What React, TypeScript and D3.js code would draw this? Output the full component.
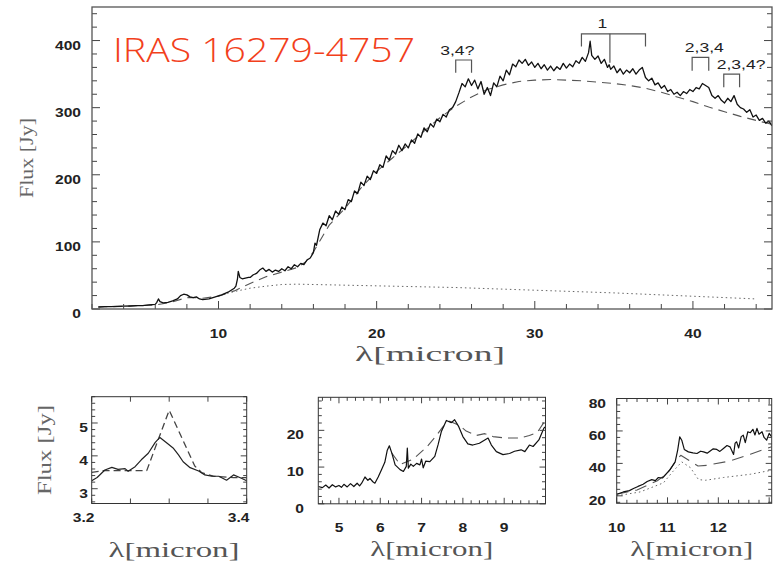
import React from "react";
import * as d3 from "d3";

// ---------- DATA ----------
const mainSpectrum: [number, number][] = [
  [2.4, 3], [2.8, 3.5], [3.2, 3.5], [3.6, 4], [4.0, 4.2], [4.4, 4.5], [4.8, 5], [5.2, 5], [5.6, 6], [6.0, 7],
  [6.1, 10], [6.2, 15], [6.3, 11], [6.5, 9], [6.8, 10], [7.1, 12], [7.4, 15], [7.6, 20], [7.8, 22], [8.0, 21],
  [8.2, 18], [8.4, 17], [8.6, 18], [8.8, 15], [9.0, 14], [9.4, 15], [9.8, 18], [10.2, 21], [10.6, 25], [11.0, 31],
  [11.1, 34], [11.2, 45], [11.25, 56], [11.35, 47], [11.5, 45], [11.7, 46], [11.9, 47],
  [12.0, 47], [12.2, 51], [12.4, 53], [12.6, 58], [12.8, 61], [13.0, 56], [13.2, 59], [13.4, 55], [13.6, 58], [13.8, 56],
  [14.0, 60], [14.2, 57], [14.4, 63], [14.6, 60], [14.8, 66], [15.0, 63], [15.2, 68], [15.4, 66], [15.6, 73], [15.8, 76],
  [16.0, 84], [16.1, 98], [16.2, 95], [16.4, 118], [16.6, 128], [16.8, 124], [17.0, 139], [17.2, 133], [17.4, 146], [17.6, 141],
  [17.8, 152], [18.0, 148], [18.2, 163], [18.4, 160], [18.6, 176], [18.8, 172], [19.0, 189], [19.2, 184], [19.4, 198], [19.6, 193],
  [19.8, 206], [20.0, 202], [20.2, 215], [20.4, 211], [20.6, 228], [20.8, 222], [21.0, 236], [21.2, 231], [21.4, 244], [21.6, 236],
  [21.8, 246], [22.0, 240], [22.2, 252], [22.4, 247], [22.6, 261], [22.8, 256], [23.0, 270], [23.2, 264], [23.4, 276], [23.6, 271],
  [23.8, 283], [24.0, 279], [24.2, 290], [24.4, 286], [24.6, 297], [24.8, 300], [25.0, 309], [25.2, 322], [25.4, 336], [25.6, 331],
  [25.8, 343], [26.0, 333], [26.2, 341], [26.4, 328], [26.6, 339], [26.8, 320], [27.0, 330], [27.2, 318], [27.4, 337], [27.6, 331],
  [27.8, 347], [28.0, 340], [28.2, 356], [28.4, 349], [28.6, 365], [28.8, 361], [29.0, 371], [29.2, 366], [29.4, 372], [29.6, 363],
  [29.8, 368], [30.0, 360], [30.2, 366], [30.4, 358], [30.6, 364], [30.8, 356], [31.0, 362], [31.2, 355], [31.4, 361], [31.6, 357],
  [31.8, 366], [32.0, 359], [32.2, 365], [32.4, 361], [32.6, 370], [32.8, 366], [33.0, 375], [33.2, 369], [33.4, 382], [33.5, 399],
  [33.6, 378], [33.8, 372], [34.0, 377], [34.2, 366], [34.4, 372], [34.6, 360], [34.7, 364], [34.8, 357], [35.0, 362], [35.2, 352],
  [35.4, 358], [35.6, 350], [35.8, 356], [36.0, 352], [36.2, 358], [36.4, 350], [36.6, 356], [36.8, 360], [37.0, 345], [37.2, 340],
  [37.4, 344], [37.6, 334], [37.8, 337], [38.0, 329], [38.2, 333], [38.4, 324], [38.6, 327], [38.8, 320], [39.0, 323], [39.2, 318],
  [39.4, 324], [39.6, 321], [39.8, 327], [40.0, 324], [40.2, 330], [40.4, 328], [40.6, 336], [40.8, 333], [41.0, 330], [41.2, 318],
  [41.4, 314], [41.6, 318], [41.8, 311], [42.0, 307], [42.2, 314], [42.4, 309], [42.6, 318], [42.8, 305], [43.0, 300], [43.2, 298],
  [43.4, 293], [43.6, 297], [43.8, 286], [44.0, 289], [44.2, 281], [44.4, 284], [44.6, 277], [44.8, 280], [45.0, 273],
];

const mainModel: [number, number][] = [
  [2.4, 3], [4, 4], [6, 6], [7, 10], [7.7, 15], [8, 17], [8.5, 17], [9, 16], [10, 19], [11, 27], [12, 38], [13, 48],
  [14, 55], [15, 62], [15.5, 70], [16, 85], [16.5, 105], [17, 125], [18, 150], [19, 180], [20, 205], [21, 225],
  [22, 245], [23, 265], [24, 285], [25, 302], [26, 316], [27, 327], [28, 334], [29, 339], [30, 341], [31, 342],
  [32, 341], [33, 340], [34, 338], [35, 336], [36, 333], [37, 329], [38, 323], [39, 316], [40, 309], [41, 301],
  [42, 294], [43, 287], [44, 281], [45, 275],
];

const mainDust: [number, number][] = [
  [10, 20], [11, 26], [12, 31], [13, 34], [14, 36.5], [15, 37], [16, 36.5], [18, 35.5], [20, 34.5],
  [25, 32], [30, 28], [35, 24], [40, 19], [44, 15],
];

const mainXTickLabels = [10, 20, 30, 40];
const mainYTickLabels = [0, 100, 200, 300, 400];

// feature brackets: [λstart, λend, top, legBottom]
const featureBrackets: [number, number, number, number][] = [
  [25.0, 26.0, 371, 352],
  [32.95, 37.0, 410, 391],
  [39.95, 41.0, 375, 355],
  [41.95, 42.95, 350, 330.5],
];
const centerLeg: [number, number, number] = [34.75, 410, 367];
const featureLabels: { text: string; x: number; y: number }[] = [
  { text: "3,4?", x: 25.1, y: 378.5 },
  { text: "1", x: 34.28, y: 418.8 },
  { text: "2,3,4", x: 40.72, y: 383.5 },
  { text: "2,3,4?", x: 43.04, y: 357.7 },
];

// panel A : 3.3 micron band
const band33Spectrum: [number, number][] = [
  [3.2, 3.24], [3.207, 3.34], [3.217, 3.57], [3.226, 3.65], [3.234, 3.59], [3.243, 3.61], [3.247, 3.53],
  [3.256, 3.67], [3.264, 3.88], [3.273, 4.08], [3.282, 4.41], [3.288, 4.56], [3.297, 4.39], [3.305, 4.24],
  [3.312, 4.03], [3.318, 3.82], [3.327, 3.64], [3.338, 3.54], [3.346, 3.42], [3.355, 3.38], [3.364, 3.38],
  [3.374, 3.26], [3.383, 3.42], [3.391, 3.34], [3.4, 3.24],
];
const band33Model: [number, number][] = [
  [3.2, 3.5], [3.215, 3.55], [3.271, 3.55], [3.3, 5.39], [3.333, 3.69], [3.342, 3.49], [3.357, 3.38],
  [3.383, 3.34], [3.4, 3.34],
];

// panel B : 5-10 micron
const pahSpectrum: [number, number][] = [
  [4.5, 4.7], [4.6, 4.4], [4.68, 5.1], [4.76, 4.3], [4.84, 5.2], [4.92, 4.6], [5.0, 5.0], [5.06, 4.5], [5.12, 5.3],
  [5.2, 4.6], [5.28, 5.5], [5.36, 4.7], [5.44, 5.6], [5.5, 4.9], [5.55, 5.6], [5.63, 7.3], [5.7, 6.4], [5.75, 6.9],
  [5.82, 6.0], [5.87, 5.6], [5.95, 7.3], [6.03, 9.3], [6.11, 11.3], [6.17, 14.6], [6.22, 15.8], [6.28, 13.8],
  [6.36, 10.6], [6.48, 9.3], [6.56, 8.8], [6.63, 10.2], [6.655, 15.2], [6.68, 9.7], [6.74, 10.8], [6.8, 10.2],
  [6.88, 11.0], [6.96, 10.6], [7.0, 12.2], [7.04, 9.8], [7.1, 11.6], [7.2, 11.5], [7.32, 12.9], [7.4, 16.1],
  [7.48, 19.7], [7.6, 22.7], [7.72, 22.1], [7.8, 22.9], [7.9, 21.0], [8.0, 18.3], [8.12, 16.3], [8.24, 16.0],
  [8.4, 16.5], [8.53, 17.4], [8.61, 17.9], [8.69, 16.0], [8.81, 14.2], [8.97, 13.4], [9.13, 13.7], [9.25, 14.3],
  [9.41, 14.7], [9.5, 14.2], [9.61, 16.0], [9.7, 15.6], [9.84, 17.4], [9.96, 20.6], [10.0, 21],
];
const pahModel: [number, number][] = [
  [6.28, 13.8], [6.48, 10.7], [6.8, 12.2], [7.12, 15.4], [7.36, 18.6], [7.52, 21], [7.68, 22.5], [7.92, 21.3],
  [8.08, 19.8], [8.32, 18.6], [8.53, 19.1], [8.73, 18.3], [9.05, 17.9], [9.37, 17.9], [9.61, 18.6], [9.8, 19.4],
  [10.0, 22.8],
];

// panel C : 10-13 micron
const band11Spectrum: [number, number][] = [
  [10.0, 21], [10.13, 22.4], [10.25, 23.2], [10.33, 24.5], [10.42, 25.8], [10.52, 27.1], [10.6, 28.8],
  [10.69, 30], [10.76, 29.4], [10.82, 31.3], [10.9, 31.0], [10.95, 32.7], [11.05, 36.2], [11.15, 40.9],
  [11.2, 48.2], [11.24, 56.4], [11.28, 54.3], [11.33, 48.6], [11.41, 47.1], [11.5, 46.5], [11.58, 46.1],
  [11.65, 47.5], [11.71, 47.1], [11.78, 46.3], [11.84, 47.7], [11.9, 49.0], [11.97, 48.6], [12.03, 47.4],
  [12.1, 49.2], [12.17, 51.0], [12.23, 50.2], [12.3, 45.5], [12.33, 52.5], [12.36, 53.3], [12.4, 49.5],
  [12.45, 56.5], [12.49, 57.4], [12.53, 52.8], [12.58, 59.5], [12.63, 58.9], [12.68, 61.0], [12.72, 57.5],
  [12.76, 61.6], [12.8, 58.0], [12.86, 59.5], [12.9, 56.0], [12.95, 54.3], [13.0, 58.5], [13.05, 56.4],
];
const band11Model: [number, number][] = [
  [10.0, 21], [10.4, 23.6], [10.8, 29.3], [11.0, 34], [11.2, 43], [11.26, 45], [11.6, 38.4], [11.77, 38.8],
  [12.23, 41.5], [12.63, 45.6], [13.05, 50.3],
];
const band11Dust: [number, number][] = [
  [10.0, 20], [10.46, 22.4], [10.92, 28], [11.1, 34.8], [11.28, 40.9], [11.45, 37.4], [11.61, 30],
  [11.75, 29.6], [12.1, 31.3], [12.63, 33.3], [13.05, 35.8],
];

// ---------- RENDER HELPERS ----------
type Series = { data: [number, number][]; stroke: string; width: number; dash?: string };
type PanelCfg = {
  left: number; right: number; top: number; bottom: number;
  xDomain: [number, number]; yDomain: [number, number];
  xMinor: number; xMajor: number; yMinor: number; yMajor: number;
  xMajorLen: number; xMinorLen: number; yMajorLen: number; yMinorLen: number;
  ticksTop: boolean; ticksRight: boolean;
  xLabels: number[]; yLabels: number[];
  xLabelY: number; xLabelDx: number; yLabelX: number; yLabelDy: number;
  fmtX: (v: number) => string;
  series: Series[];
  frameColor: string; frameWidth: number;
};

function tickValues(domain: [number, number], step: number): number[] {
  const out: number[] = [];
  const i0 = Math.ceil(domain[0] / step - 1e-6);
  const i1 = Math.floor(domain[1] / step + 1e-6);
  for (let i = i0; i <= i1; i++) out.push(+(i * step).toFixed(6));
  return out;
}
const isMajor = (v: number, major: number) => Math.abs(v / major - Math.round(v / major)) < 1e-6;

const numFont = "'Liberation Sans', Arial, sans-serif";
const serifFont = "'Liberation Serif', 'Times New Roman', serif";

function Num({ x, y, text, anchor }: { x: number; y: number; text: string; anchor: string }) {
  return (
    <text transform={`translate(${x},${y}) scale(1.3,1)`} textAnchor={anchor}
      fontFamily={numFont} fontWeight={700} fontSize={12} fill="#222">{text}</text>
  );
}

function Panel({ cfg, children }: { cfg: PanelCfg; children?: (x: any, y: any) => React.ReactNode }) {
  const x = d3.scaleLinear().domain(cfg.xDomain).range([cfg.left, cfg.right]);
  const y = d3.scaleLinear().domain(cfg.yDomain).range([cfg.bottom, cfg.top]);
  const line = d3.line<[number, number]>().x((d) => x(d[0])).y((d) => y(d[1]));
  const xt = tickValues(cfg.xDomain, cfg.xMinor);
  const yt = tickValues(cfg.yDomain, cfg.yMinor);
  const tc = "#444";
  return (
    <g>
      <defs>
        <clipPath id={`clip-${cfg.left}`}>
          <rect x={cfg.left} y={cfg.top} width={cfg.right - cfg.left} height={cfg.bottom - cfg.top} />
        </clipPath>
      </defs>
      <g clipPath={`url(#clip-${cfg.left})`}>
        {cfg.series.map((s, i) => (
          <path key={i} d={line(s.data) || ""} fill="none" stroke={s.stroke} strokeWidth={s.width}
            strokeDasharray={s.dash} strokeLinejoin="round" />
        ))}
      </g>
      {xt.map((v, i) => {
        const len = isMajor(v, cfg.xMajor) ? cfg.xMajorLen : cfg.xMinorLen;
        return (
          <g key={"x" + i} stroke={tc} strokeWidth={1}>
            <line x1={x(v)} x2={x(v)} y1={cfg.bottom} y2={cfg.bottom - len} />
            {cfg.ticksTop && <line x1={x(v)} x2={x(v)} y1={cfg.top} y2={cfg.top + len} />}
          </g>
        );
      })}
      {yt.map((v, i) => {
        const len = isMajor(v, cfg.yMajor) ? cfg.yMajorLen : cfg.yMinorLen;
        return (
          <g key={"y" + i} stroke={tc} strokeWidth={1}>
            <line x1={cfg.left} x2={cfg.left + len} y1={y(v)} y2={y(v)} />
            {cfg.ticksRight && <line x1={cfg.right} x2={cfg.right - len} y1={y(v)} y2={y(v)} />}
          </g>
        );
      })}
      <rect x={cfg.left} y={cfg.top} width={cfg.right - cfg.left} height={cfg.bottom - cfg.top}
        fill="none" stroke={cfg.frameColor} strokeWidth={cfg.frameWidth} />
      {cfg.xLabels.map((v, i) => (
        <Num key={"xl" + i} x={x(v) + cfg.xLabelDx} y={cfg.xLabelY} text={cfg.fmtX(v)} anchor="middle" />
      ))}
      {cfg.yLabels.map((v, i) => (
        <Num key={"yl" + i} x={cfg.yLabelX} y={y(v) + cfg.yLabelDy} text={String(v)} anchor="end" />
      ))}
      {children && children(x, y)}
    </g>
  );
}

const mainCfg: PanelCfg = {
  left: 92, right: 772, top: 7, bottom: 309,
  xDomain: [2, 45], yDomain: [0, 450],
  xMinor: 2, xMajor: 10, yMinor: 20, yMajor: 100,
  xMajorLen: 8, xMinorLen: 5, yMajorLen: 8, yMinorLen: 5,
  ticksTop: false, ticksRight: true,
  xLabels: mainXTickLabels, yLabels: mainYTickLabels,
  xLabelY: 338, xLabelDx: 0, yLabelX: 81, yLabelDy: 9,
  fmtX: (v) => String(v),
  series: [
    { data: mainDust, stroke: "#666", width: 1, dash: "1.5,3" },
    { data: mainModel, stroke: "#555", width: 1.1, dash: "9,6" },
    { data: mainSpectrum, stroke: "#111", width: 1.3 },
  ],
  frameColor: "#555", frameWidth: 1.3,
};

const panelA: PanelCfg = {
  left: 91.7, right: 246.7, top: 396.7, bottom: 503.5,
  xDomain: [3.2, 3.4], yDomain: [2.55, 5.8],
  xMinor: 0.05, xMajor: 0.05, yMinor: 0.2, yMajor: 1,
  xMajorLen: 5, xMinorLen: 5, yMajorLen: 6, yMinorLen: 3.5,
  ticksTop: true, ticksRight: true,
  xLabels: [3.2, 3.4], yLabels: [3, 4, 5],
  xLabelY: 522, xLabelDx: -8, yLabelX: 88, yLabelDy: 9,
  fmtX: (v) => v.toFixed(1),
  series: [
    { data: band33Model, stroke: "#444", width: 1.3, dash: "7,4" },
    { data: band33Spectrum, stroke: "#222", width: 1.2 },
  ],
  frameColor: "#333", frameWidth: 1,
};

const panelB: PanelCfg = {
  left: 318.3, right: 545.5, top: 397.3, bottom: 503.8,
  xDomain: [4.5, 10], yDomain: [0, 29],
  xMinor: 0.2, xMajor: 1, yMinor: 2, yMajor: 10,
  xMajorLen: 6, xMinorLen: 3.5, yMajorLen: 6, yMinorLen: 3.5,
  ticksTop: true, ticksRight: true,
  xLabels: [5, 6, 7, 8, 9], yLabels: [0, 10, 20],
  xLabelY: 532, xLabelDx: 0, yLabelX: 304, yLabelDy: 9,
  fmtX: (v) => String(v),
  series: [
    { data: pahModel, stroke: "#555", width: 1.1, dash: "10,6" },
    { data: pahSpectrum, stroke: "#111", width: 1.2 },
  ],
  frameColor: "#333", frameWidth: 1,
};

const panelC: PanelCfg = {
  left: 616.7, right: 771.7, top: 398.5, bottom: 503.3,
  xDomain: [10, 13.05], yDomain: [15.4, 80],
  xMinor: 0.2, xMajor: 1, yMinor: 4, yMajor: 20,
  xMajorLen: 6, xMinorLen: 3.5, yMajorLen: 6, yMinorLen: 3.5,
  ticksTop: true, ticksRight: true,
  xLabels: [10, 11, 12], yLabels: [20, 40, 60, 80],
  xLabelY: 532, xLabelDx: 0, yLabelX: 606, yLabelDy: 9,
  fmtX: (v) => String(v),
  series: [
    { data: band11Dust, stroke: "#666", width: 1, dash: "1.5,3" },
    { data: band11Model, stroke: "#555", width: 1.1, dash: "12,7" },
    { data: band11Spectrum, stroke: "#111", width: 1.2 },
  ],
  frameColor: "#333", frameWidth: 1,
};

export default function App() {
  return (
    <svg width={776} height={565} viewBox="0 0 776 565"
      style={{ position: "absolute", left: 0, top: 0, background: "#fff" }}>
      <rect x={0} y={0} width={776} height={565} fill="#fff" />
      <Panel cfg={mainCfg}>
        {(x, y) => (
          <g>
            {featureBrackets.map((b, i) => (
              <path key={i}
                d={`M${x(b[0])},${y(b[3])}V${y(b[2])}H${x(b[1])}V${y(b[3])}`}
                fill="none" stroke="#555" strokeWidth={1.2} />
            ))}
            <line x1={x(centerLeg[0])} x2={x(centerLeg[0])} y1={y(centerLeg[1])} y2={y(centerLeg[2])}
              stroke="#555" strokeWidth={1.2} />
            {featureLabels.map((l, i) => (
              <text key={i} transform={`translate(${x(l.x)},${y(l.y)}) scale(1.35,1)`} textAnchor="middle"
                fontFamily={numFont} fontSize={13} fill="#222">{l.text}</text>
            ))}
          </g>
        )}
      </Panel>
      <Panel cfg={panelA} />
      <Panel cfg={panelB} />
      <Panel cfg={panelC} />

      {/* title */}
      <text x={113} y={62} fontFamily="'Open Sans', sans-serif" fontWeight={300} fontSize={33}
        fill="#f2401b" textLength={302} lengthAdjust="spacingAndGlyphs">IRAS 16279-4757</text>

      {/* axis titles */}
      <text transform="translate(33,158) rotate(-90)" textAnchor="middle" fontFamily={serifFont}
        fontSize={19} fill="#666" textLength={80} lengthAdjust="spacingAndGlyphs">Flux [Jy]</text>
      <text x={430} y={361} textAnchor="middle" fontFamily={serifFont} fontSize={20} fill="#555"
        textLength={150} lengthAdjust="spacingAndGlyphs">λ[micron]</text>

      <text transform="translate(51,450) rotate(-90)" textAnchor="middle" fontFamily={serifFont}
        fontSize={19} fill="#666" textLength={90} lengthAdjust="spacingAndGlyphs">Flux  [Jy]</text>
      <text x={174} y={557} textAnchor="middle" fontFamily={serifFont} fontSize={21} fill="#555"
        textLength={131} lengthAdjust="spacingAndGlyphs">λ[micron]</text>
      <text x={431.7} y={556} textAnchor="middle" fontFamily={serifFont} fontSize={21} fill="#555"
        textLength={123} lengthAdjust="spacingAndGlyphs">λ[micron]</text>
      <text x={691.7} y={556} textAnchor="middle" fontFamily={serifFont} fontSize={21} fill="#555"
        textLength={123} lengthAdjust="spacingAndGlyphs">λ[micron]</text>
    </svg>
  );
}
